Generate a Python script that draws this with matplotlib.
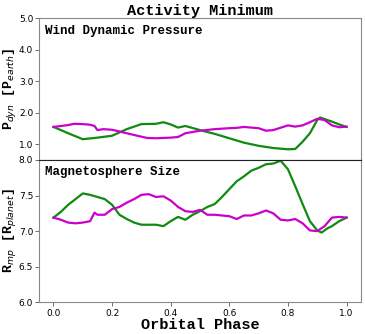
import matplotlib
matplotlib.use("Agg")
import matplotlib.pyplot as plt

# orbital phase sample points and values
phase_g_p = [0.0, 0.05, 0.10, 0.15, 0.20, 0.25, 0.30, 0.35, 0.375, 0.40, 0.425, 0.45, 0.50, 0.55,
             0.60, 0.65, 0.70, 0.75, 0.80, 0.825, 0.85, 0.875, 0.90, 0.91, 0.95, 0.975, 1.0]
pdyn_green = [1.55, 1.35, 1.16, 1.21, 1.27, 1.48, 1.64, 1.65, 1.70, 1.63, 1.53, 1.58, 1.45, 1.33,
              1.19, 1.05, 0.95, 0.88, 0.84, 0.85, 1.08, 1.35, 1.77, 1.85, 1.72, 1.63, 1.55]

phase_m_p = [0.0, 0.05, 0.07, 0.10, 0.125, 0.14, 0.15, 0.17, 0.20, 0.25, 0.30, 0.32, 0.35, 0.40,
             0.425, 0.45, 0.50, 0.55, 0.60, 0.625, 0.65, 0.70, 0.725, 0.75, 0.80, 0.825, 0.85,
             0.875, 0.90, 0.925, 0.95, 0.975, 1.0]
pdyn_magenta = [1.55, 1.61, 1.65, 1.64, 1.62, 1.58, 1.45, 1.48, 1.46, 1.35, 1.24, 1.20, 1.19, 1.21,
                1.23, 1.35, 1.43, 1.48, 1.51, 1.52, 1.55, 1.51, 1.43, 1.45, 1.60, 1.56, 1.60,
                1.70, 1.81, 1.77, 1.60, 1.54, 1.56]

phase_g_r = [0.0, 0.025, 0.05, 0.075, 0.10, 0.125, 0.15, 0.175, 0.20, 0.225, 0.25, 0.275, 0.30,
             0.325, 0.35, 0.375, 0.40, 0.425, 0.45, 0.475, 0.50, 0.525, 0.55, 0.575, 0.60, 0.625,
             0.65, 0.675, 0.70, 0.725, 0.75, 0.775, 0.80, 0.825, 0.85, 0.875, 0.90, 0.915, 0.935,
             0.95, 0.975, 1.0]
rmp_green = [7.19, 7.27, 7.37, 7.45, 7.53, 7.51, 7.48, 7.45, 7.37, 7.23, 7.17, 7.12, 7.09,
             7.09, 7.09, 7.07, 7.14, 7.20, 7.16, 7.23, 7.28, 7.34, 7.38, 7.48, 7.59, 7.70,
             7.77, 7.85, 7.89, 7.94, 7.95, 7.99, 7.87, 7.63, 7.38, 7.14, 7.01, 6.98, 7.04,
             7.07, 7.14, 7.19]

phase_m_r = [0.0, 0.025, 0.05, 0.075, 0.10, 0.125, 0.14, 0.15, 0.175, 0.20, 0.225, 0.25, 0.275,
             0.30, 0.325, 0.35, 0.375, 0.40, 0.425, 0.45, 0.475, 0.50, 0.525, 0.55, 0.575, 0.60,
             0.625, 0.65, 0.675, 0.70, 0.725, 0.75, 0.775, 0.80, 0.825, 0.85, 0.875, 0.90, 0.925,
             0.95, 0.975, 1.0]
rmp_magenta = [7.19, 7.16, 7.12, 7.11, 7.12, 7.14, 7.26, 7.23, 7.23, 7.31, 7.34, 7.40, 7.45,
               7.51, 7.52, 7.48, 7.49, 7.43, 7.34, 7.28, 7.27, 7.30, 7.23, 7.23, 7.22, 7.21,
               7.17, 7.22, 7.22, 7.25, 7.29, 7.25, 7.16, 7.15, 7.17, 7.11, 7.01, 7.00, 7.07,
               7.19, 7.20, 7.19]

green = "#108a10"
magenta = "#cc00cc"
mono = "Liberation Mono"

fig = plt.figure(figsize=(3.65, 3.34), dpi=100)
ax1 = fig.add_axes([0.108, 0.521, 0.880, 0.424])
ax2 = fig.add_axes([0.108, 0.095, 0.880, 0.426], sharex=ax1)

ax1.plot(phase_g_p, pdyn_green, color=green, lw=1.6)
ax1.plot(phase_m_p, pdyn_magenta, color=magenta, lw=1.6)
ax2.plot(phase_g_r, rmp_green, color=green, lw=1.6)
ax2.plot(phase_m_r, rmp_magenta, color=magenta, lw=1.6)

ax1.set_xlim(-0.048, 1.048)
ax1.set_ylim(0.5, 5.0)
ax1.set_yticks([1.0, 2.0, 3.0, 4.0, 5.0])
ax1.set_yticklabels(["1.0", "2.0", "3.0", "4.0", "5.0"])
ax2.set_ylim(6.0, 8.0)
ax2.set_yticks([6.0, 6.5, 7.0, 7.5, 8.0])
ax2.set_yticklabels(["6.0", "6.5", "7.0", "7.5", "8.0"])
ax2.set_xticks([0.0, 0.2, 0.4, 0.6, 0.8, 1.0])
ax2.set_xticklabels(["0.0", "0.2", "0.4", "0.6", "0.8", "1.0"])
plt.setp(ax1.get_xticklabels(), visible=False)

for ax in (ax1, ax2):
    ax.tick_params(labelsize=6.5, length=3, width=0.6, color="#555555", pad=1.5)
    for s in ax.spines.values():
        s.set_color("#888888")
        s.set_linewidth(0.8)
ax1.tick_params(axis="x", length=0)
ax1.spines["bottom"].set_color("#222222")
ax2.spines["top"].set_color("#222222")

ax1.text(0.017, 0.955, "Wind Dynamic Pressure", transform=ax1.transAxes, ha="left", va="top",
         family=mono, weight="bold", fontsize=9)
ax2.text(0.017, 0.955, "Magnetosphere Size", transform=ax2.transAxes, ha="left", va="top",
         family=mono, weight="bold", fontsize=9)

ax1.set_title("Activity Minimum", family=mono, weight="bold", fontsize=11, pad=1)
ax2.set_xlabel("Orbital Phase", family=mono, weight="bold", fontsize=11, labelpad=0)
ax1.set_ylabel(r"P$_{dyn}$ [P$_{earth}$]", family=mono, weight="bold", fontsize=9.5)
ax2.set_ylabel(r"R$_{mp}$ [R$_{planet}$]", family=mono, weight="bold", fontsize=9.5)
ax1.yaxis.set_label_coords(-0.066, 0.5)
ax2.yaxis.set_label_coords(-0.066, 0.5)

fig.savefig("out.png", dpi=100)
